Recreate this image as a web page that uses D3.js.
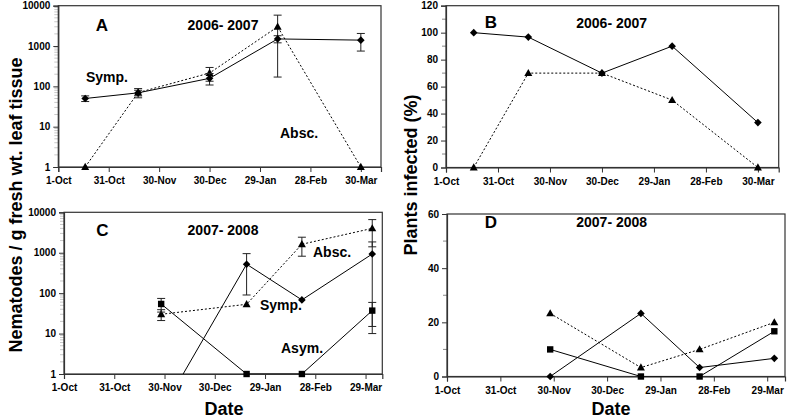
<!DOCTYPE html>
<html><head><meta charset="utf-8">
<script src="https://cdn.jsdelivr.net/npm/d3@7"></script>
<style>
body{margin:0;background:#fff;}
text{font-family:"Liberation Sans",Arial,sans-serif;font-weight:bold;fill:#000;}
</style></head>
<body><svg id="c" width="788" height="420"></svg>
<script>
// ---------- data ----------
const tickDays = [0, 30, 60, 90, 120, 150, 180];
const tickLabels0607 = ["1-Oct", "31-Oct", "30-Nov", "30-Dec", "29-Jan", "28-Feb", "30-Mar"];
const tickLabels0708 = ["1-Oct", "31-Oct", "30-Nov", "30-Dec", "29-Jan", "28-Feb", "29-Mar"];
const logTicks = [1, 10, 100, 1000, 10000];

// 2006-2007 sampling days (days after 1 Oct)
const days0607 = [16, 47.5, 90, 130.5, 180];
// Panel A: nematodes / g (log)
const aSymp = [50, 69, 158, 1500, 1400];
const aSympErr = [8, 11, 50, 300, 650];
const aAbsc = [1, 70, 214, 3000, 1];
const aAbscErr = [0, 18, 80, 2830, 0];
// Panel B: plants infected (%)
const bSymp = [100, 96.7, 70, 90, 33.3];
const bAbsc = [0, 70, 70, 50, 0];

// 2007-2008 sampling days
const days0708 = [58, 109, 142, 184];
// Panel C: nematodes / g (log); first Symp value is 0 (drawn off-scale)
const cAsym = [54, 1, 1, 37];
const cAsymErr = [20, 0, 0, 22];
const cSymp = [0.115, 520, 68, 930];
const cSympErr = [0, 430, 0, 920];
const cAbsc = [30, 53, 1620, 4000];
const cAbscErr = [9, 0, 800, 2600];
// Panel D: plants infected (%)
const dAbsc = [23.3, 3.3, 10, 20];
const dAsym = [10, 0, 0, 16.7];
const dSymp = [0, 23.3, 3.3, 6.7];

// ---------- drawing ----------
const svg = d3.select("#c");
let clipN = 0;

function marker(g, type, x, y) {
  let p;
  if (type === "diamond") p = `M${x},${y-3.8}L${x+3.8},${y}L${x},${y+3.8}L${x-3.8},${y}Z`;
  else if (type === "triangle") p = `M${x},${y-4.2}L${x+4},${y+2.9}L${x-4},${y+2.9}Z`;
  else p = `M${x-3.2},${y-3.2}h6.4v6.4h-6.4Z`;
  g.append("path").attr("d", p).attr("fill", "#000");
}

function panel(cfg) {
  const {l, r, t, b, xmax, log, ymax, yticks, yminor, labels} = cfg;
  const x = d3.scaleLinear().domain([0, xmax]).range([l, r]);
  const y = log ? d3.scaleLog().domain([1, 10000]).range([b, t])
                : d3.scaleLinear().domain([0, ymax]).range([b, t]);
  const g = svg.append("g");
  g.append("g").selectAll("line").data(yminor).join("line")
    .attr("x1", l - 4).attr("x2", l).attr("y1", d => y(d)).attr("y2", d => y(d))
    .attr("stroke", log ? "#c8c8c8" : "#888").attr("stroke-width", 1);
  g.append("rect").attr("x", l).attr("y", t).attr("width", r - l).attr("height", b - t)
    .attr("fill", "none").attr("stroke", "#333").attr("stroke-width", 1.2);
  const ya = g.append("g").attr("transform", `translate(${l},0)`)
    .call(log ? d3.axisLeft(y).tickValues(yticks).tickFormat(d3.format("d")).tickSize(5).tickPadding(3)
              : d3.axisLeft(y).tickValues(yticks).tickSize(5).tickPadding(3));
  const xa = g.append("g").attr("transform", `translate(0,${b})`)
    .call(d3.axisBottom(x).tickValues(tickDays).tickFormat((d, i) => labels[i]).tickSize(5).tickPadding(5));
  [ya, xa].forEach(a => {
    a.select(".domain").attr("stroke", "#333").attr("stroke-width", 1.2);
    a.selectAll(".tick line").attr("stroke", "#333");
    a.selectAll("text").attr("font-size", 10).attr("font-family", "Liberation Sans, Arial").attr("font-weight", "bold").attr("fill", "#000");
  });
  const id = "clip" + (clipN++);
  svg.append("clipPath").attr("id", id).append("rect")
    .attr("x", l).attr("y", t - 10).attr("width", r - l + 10).attr("height", b - t + 10);
  const plot = svg.append("g").attr("clip-path", `url(#${id})`);
  const plotFree = svg.append("g");
  return {x, y, g, plot, plotFree};
}

function series(P, days, vals, errs, type, dashed) {
  const {x, y, plot, plotFree} = P;
  const line = d3.line().x((d, i) => x(days[i])).y(d => y(d));
  plot.append("path").attr("d", line(vals)).attr("fill", "none").attr("stroke", "#000")
    .attr("stroke-width", 1).attr("stroke-dasharray", dashed ? "2,2" : null);
  if (errs) {
    vals.forEach((v, i) => {
      if (!errs[i]) return;
      const xi = x(days[i]);
      const lo = Math.max(v - errs[i], 1e-9), hi = v + errs[i];
      const y1 = Math.min(y(lo), y.range()[0]), y2 = y(hi);
      const eg = plotFree.append("g").attr("stroke", "#222").attr("stroke-width", 1);
      eg.append("line").attr("x1", xi).attr("x2", xi).attr("y1", y1).attr("y2", y2);
      eg.append("line").attr("x1", xi - 4).attr("x2", xi + 4).attr("y1", y1).attr("y2", y1);
      eg.append("line").attr("x1", xi - 4).attr("x2", xi + 4).attr("y1", y2).attr("y2", y2);
    });
  }
  vals.forEach((v, i) => {
    const yy = y(v);
    if (yy <= y.range()[0] + 0.5) marker(plotFree, type, x(days[i]), yy);
  });
}

function txt(x, y, s, size, anchor) {
  svg.append("text").attr("x", x).attr("y", y).attr("font-size", size)
    .attr("text-anchor", anchor || "start").text(s);
}

const logMinor = [];
[1, 10, 100, 1000].forEach(d => { for (let k = 2; k <= 9; k++) logMinor.push(d * k); });

// Panel A
const A = panel({l: 58.3, r: 381, t: 5.7, b: 167, xmax: 192, log: true, yticks: logTicks, yminor: logMinor, labels: tickLabels0607});
series(A, days0607, aAbsc, aAbscErr, "triangle", true);
series(A, days0607, aSymp, aSympErr, "diamond", false);
txt(102, 31, "A", 17, "middle");
txt(223, 29.5, "2006- 2007", 14, "middle");
txt(86, 82, "Symp.", 14);
txt(280, 138, "Absc.", 14);

// Panel B
const B = panel({l: 446, r: 778.7, t: 5.7, b: 167.5, xmax: 192, log: false, ymax: 120, yticks: d3.range(0, 121, 20), yminor: [10, 30, 50, 70, 90, 110], labels: tickLabels0607});
series(B, days0607, bAbsc, null, "triangle", true);
series(B, days0607, bSymp, null, "diamond", false);
txt(491, 28, "B", 17, "middle");
txt(611.7, 27.7, "2006- 2007", 14, "middle");

// Panel C
const C = panel({l: 64, r: 382.3, t: 212.3, b: 374, xmax: 190, log: true, yticks: logTicks, yminor: logMinor, labels: tickLabels0708});
series(C, days0708, cAbsc, cAbscErr, "triangle", true);
series(C, days0708, cSymp, cSympErr, "diamond", false);
series(C, days0708, cAsym, cAsymErr, "square", false);
txt(102.5, 236, "C", 17, "middle");
txt(223, 235, "2007- 2008", 14, "middle");
txt(313, 257, "Absc.", 14);
txt(260, 310, "Symp.", 14);
txt(281, 353, "Asym.", 14);

// Panel D
const D = panel({l: 447, r: 785, t: 214, b: 376.5, xmax: 190, log: false, ymax: 60, yticks: [0, 20, 40, 60], yminor: [10, 30, 50], labels: tickLabels0708});
series(D, days0708, dAbsc, null, "triangle", true);
series(D, days0708, dAsym, null, "square", false);
series(D, days0708, dSymp, null, "diamond", false);
txt(491, 228, "D", 17, "middle");
txt(611.7, 227, "2007- 2008", 14, "middle");

// Axis titles
svg.append("text").attr("transform", "translate(21.5,205) rotate(-90)").attr("text-anchor", "middle")
  .attr("font-size", 18).text("Nematodes / g fresh wt. leaf tissue");
svg.append("text").attr("transform", "translate(416.5,175) rotate(-90)").attr("text-anchor", "middle")
  .attr("font-size", 18).text("Plants infected (%)");
txt(224, 415, "Date", 18, "middle");
txt(611, 415, "Date", 18, "middle");
</script></body></html>
